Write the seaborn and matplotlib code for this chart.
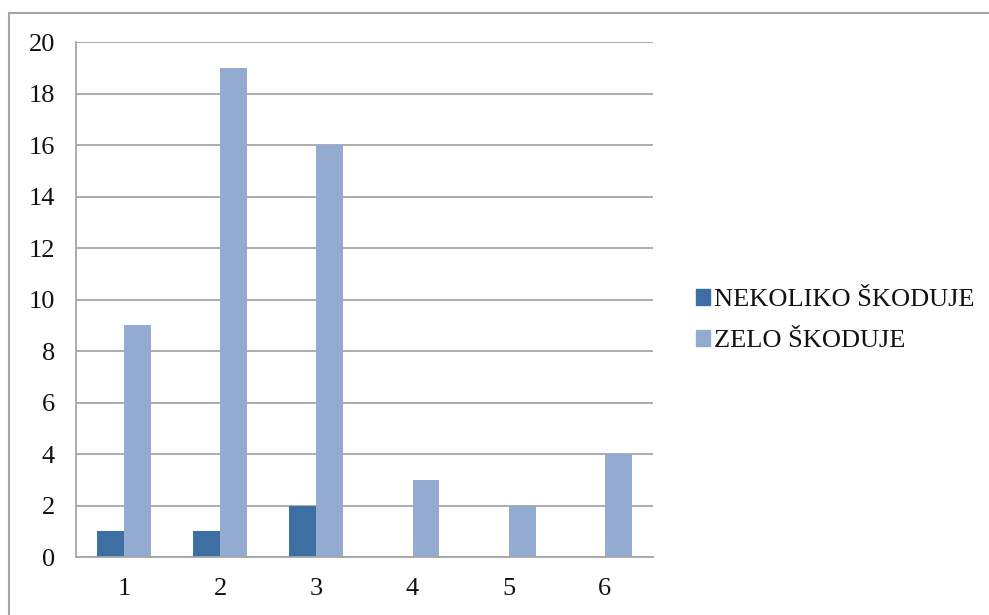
import matplotlib
matplotlib.use("Agg")
import matplotlib.pyplot as plt
import seaborn as sns
import pandas as pd
from matplotlib.lines import Line2D

categories = ["1", "2", "3", "4", "5", "6"]
series_names = ["NEKOLIKO ŠKODUJE", "ZELO ŠKODUJE"]
nekoliko = [1, 1, 2, 0, 0, 0]
zelo = [9, 19, 16, 3, 2, 4]
y_ticks = [0, 2, 4, 6, 8, 10, 12, 14, 16, 18, 20]

df = pd.DataFrame({
    "cat": categories * 2,
    "series": [series_names[0]] * len(categories) + [series_names[1]] * len(categories),
    "value": nekoliko + zelo,
})

sns.set_theme(style="white")
plt.rcParams["font.family"] = ["Liberation Serif", "DejaVu Serif"]

colors = ["#3D6FA4", "#93AAD1"]
grid_c = "#A6A6A6"

fig = plt.figure(figsize=(9.89, 6.15), dpi=100)
ax = fig.add_axes([0.0768, 0.0943, 0.5834, 0.8374])

sns.barplot(data=df, x="cat", y="value", hue="series", hue_order=series_names,
            palette=colors, width=0.56, gap=0, ax=ax, saturation=1,
            edgecolor="none", legend=True)

ax.set_ylim(0, 20)
ax.set_yticks(y_ticks)
ax.set_xlim(-0.5, 5.5)
ax.set_xlabel("")
ax.set_ylabel("")
ax.yaxis.grid(True, color=grid_c, linewidth=1.3)
ax.set_axisbelow(True)
for s in ["top", "right"]:
    ax.spines[s].set_visible(False)
for s in ["left", "bottom"]:
    ax.spines[s].set_color(grid_c)
    ax.spines[s].set_linewidth(1.3)
ax.tick_params(axis="both", length=0, labelsize=19, colors="#111111")
ax.tick_params(axis="y", pad=15)
ax.tick_params(axis="x", pad=15)

ax.get_legend().remove()
handles = [plt.Rectangle((0, 0), 1, 1, color=c) for c in colors]
fig.legend(handles, series_names, loc="center left", bbox_to_anchor=(0.693, 0.479),
           frameon=False, fontsize=19, handlelength=0.55, handleheight=0.55,
           handletextpad=0.15, labelspacing=0.72, borderaxespad=0,
           labelcolor="#111111")

# outer frame (top and left edges visible)
fig.add_artist(Line2D([9 / 989, 1.0], [1 - 13 / 615, 1 - 13 / 615], color="#A6A6A6",
                      linewidth=1.5, transform=fig.transFigure))
fig.add_artist(Line2D([9 / 989, 9 / 989], [0, 1 - 13 / 615], color="#A6A6A6",
                      linewidth=1.5, transform=fig.transFigure))

fig.savefig("out.png", dpi=100)
